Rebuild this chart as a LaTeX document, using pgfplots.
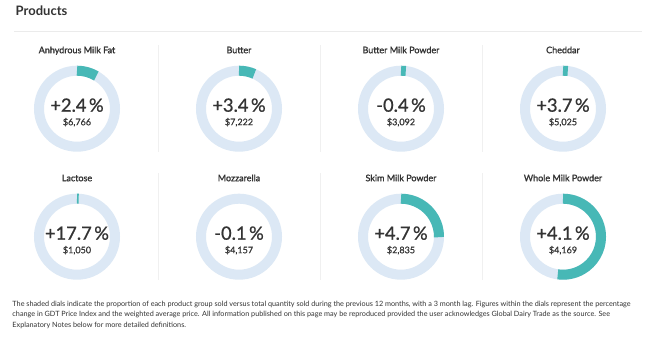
\documentclass[border=0pt]{standalone}
\usepackage{pgfplots}
\pgfplotsset{compat=1.18}
\usepackage{fontspec}
\setmainfont{Lato}
\newfontfamily\latosemi[FakeBold=1.5]{Lato}
\newfontfamily\latomed[FakeBold=0.8]{Lato}
\definecolor{ring}{HTML}{DCE8F5}
\definecolor{tealseg}{HTML}{47B8B6}
\definecolor{txt}{HTML}{333333}
\definecolor{divider}{HTML}{F0F0F0}
\definecolor{rulec}{HTML}{EBEBEB}

% cx, cy, share sold, name, price change, price
\newcommand{\donut}[6]{%
  \draw[ring, line width=10bp] (axis cs:#1,#2) circle[radius=38bp];
  \draw[tealseg, line width=10bp] (axis cs:#1,#2) ++(90:38bp) arc[start angle=90, delta angle=-360*#3, radius=38bp];
  \node[anchor=base, inner sep=0pt, text=txt, font=\latosemi\fontsize{9bp}{10bp}\selectfont, yshift=55.5bp] at (axis cs:#1,#2) {#4};
  \node[anchor=base, inner sep=0pt, text=txt, font=\latomed\fontsize{18.3bp}{20bp}\selectfont, yshift=-3bp] at (axis cs:#1,#2) {#5\kern2.5bp\%};
  \node[anchor=base, inner sep=0pt, text=txt, font=\latomed\fontsize{9bp}{10bp}\selectfont, yshift=-16.5bp] at (axis cs:#1,#2) {#6};
}

\begin{document}
\begin{tikzpicture}
\begin{axis}[hide axis, scale only axis, width=660bp, height=349bp,
  xmin=0, xmax=660, ymin=0, ymax=349, y dir=reverse, clip=false]
\fill[white] (axis cs:0,0) rectangle (axis cs:660,349);
\node[anchor=base west, inner sep=0pt, text=txt, font=\bfseries\fontsize{13bp}{15bp}\selectfont] at (axis cs:15.5,15.5) {Products};
\draw[rulec, line width=0.8bp] (axis cs:14,31.7) -- (axis cs:642,31.7);
% column dividers
\draw[divider, line width=0.8bp] (axis cs:158,45) -- (axis cs:158,152);
\draw[divider, line width=0.8bp] (axis cs:320,45) -- (axis cs:320,152);
\draw[divider, line width=0.8bp] (axis cs:482,45) -- (axis cs:482,152);
\draw[divider, line width=0.8bp] (axis cs:158,173) -- (axis cs:158,280);
\draw[divider, line width=0.8bp] (axis cs:320,173) -- (axis cs:320,280);
\draw[divider, line width=0.8bp] (axis cs:482,173) -- (axis cs:482,280);

\donut{77}{108.7}{0.085}{Anhydrous Milk Fat}{+2.4}{\$6,766}
\donut{239}{108.7}{0.066}{Butter}{+3.4}{\$7,222}
\donut{401}{108.7}{0.02}{Butter Milk Powder}{-0.4}{\$3,092}
\donut{563}{108.7}{0.02}{Cheddar}{+3.7}{\$5,025}
\donut{77}{236.7}{0.007}{Lactose}{+17.7}{\$1,050}
\donut{239}{236.7}{0}{Mozzarella}{-0.1}{\$4,157}
\donut{401}{236.7}{0.252}{Skim Milk Powder}{+4.7}{\$2,835}
\donut{563}{236.7}{0.522}{Whole Milk Powder}{+4.1}{\$4,169}

\node[anchor=base west, inner sep=0pt, text=txt, font=\fontsize{7.25bp}{8bp}\selectfont] at (axis cs:12.3,306) {The shaded dials indicate the proportion of each product group sold versus total quantity sold during the previous 12 months, with a 3 month lag. Figures within the dials represent the percentage};
\node[anchor=base west, inner sep=0pt, text=txt, font=\fontsize{7.25bp}{8bp}\selectfont] at (axis cs:12.3,316.5) {change in GDT Price Index and the weighted average price. All information published on this page may be reproduced provided the user acknowledges Global Dairy Trade as the source. See};
\node[anchor=base west, inner sep=0pt, text=txt, font=\fontsize{7.25bp}{8bp}\selectfont] at (axis cs:12.3,327) {Explanatory Notes below for more detailed definitions.};
\end{axis}
\end{tikzpicture}
\end{document}
